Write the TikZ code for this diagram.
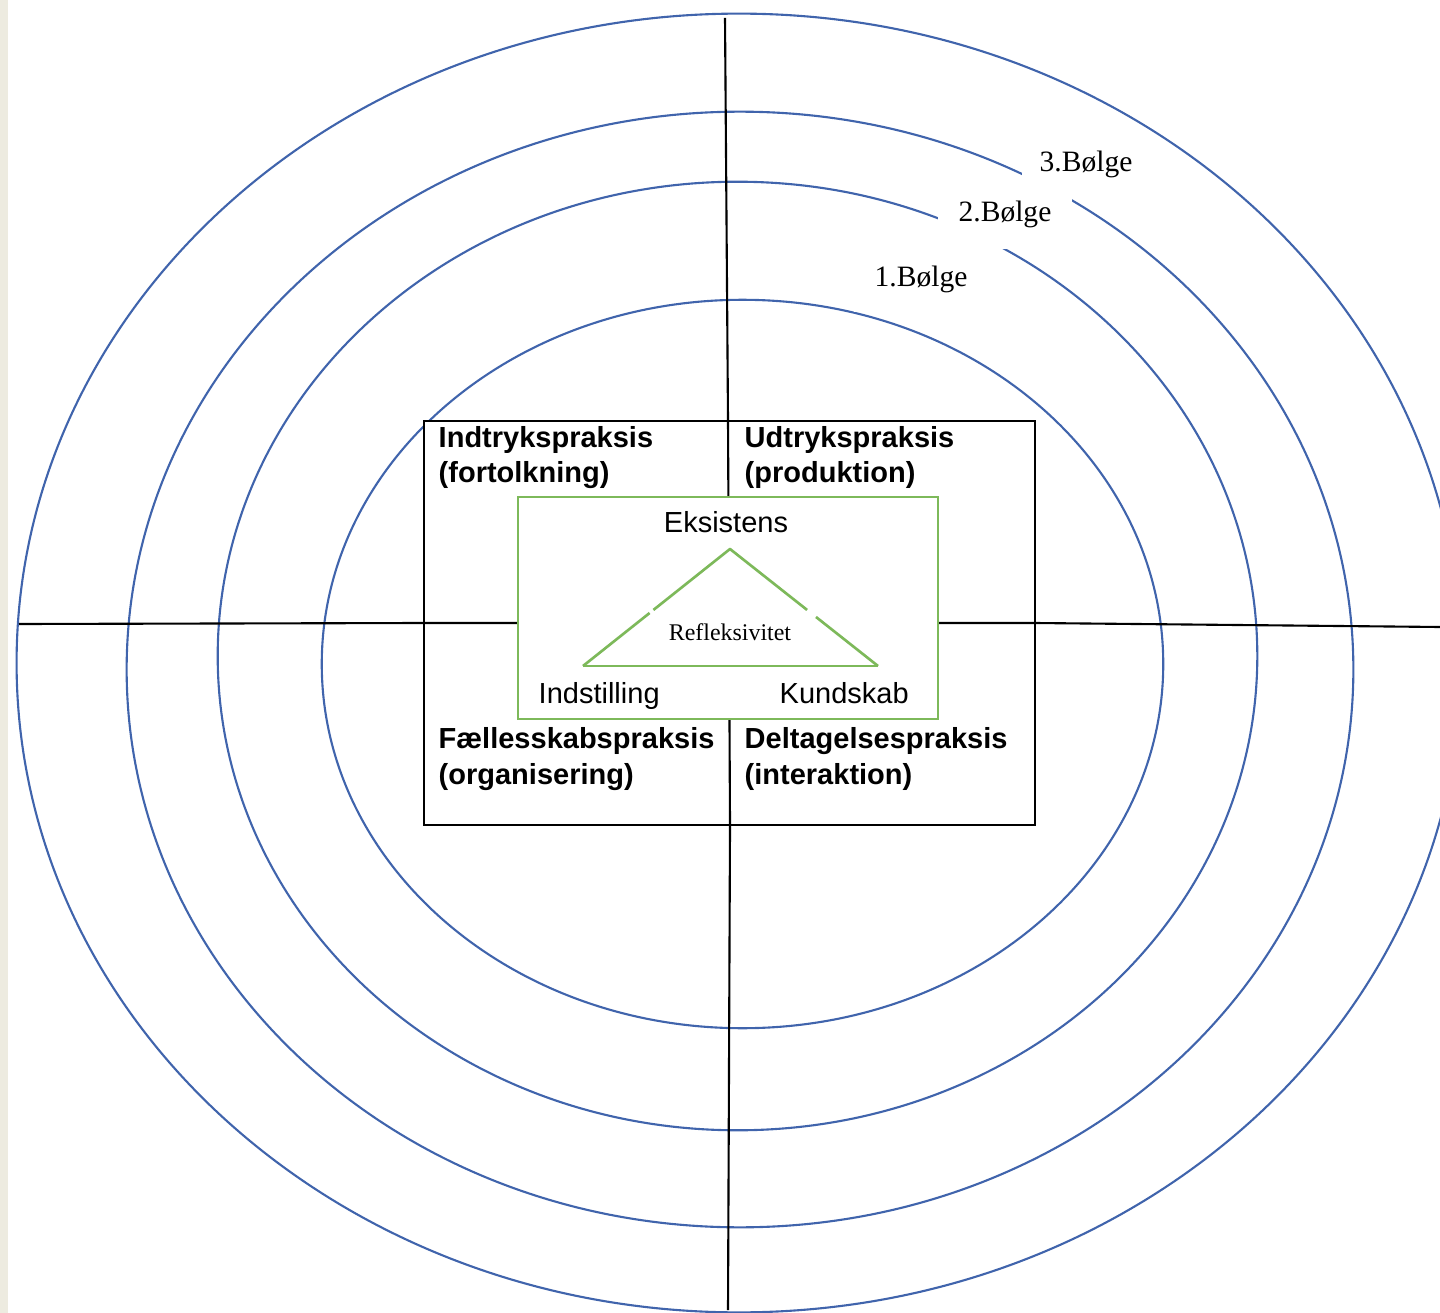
\documentclass[tikz,border=0pt]{standalone}
\usepackage{fontspec}
\setmainfont{Liberation Serif}
\setsansfont{Liberation Sans}
\usetikzlibrary{calc}
\definecolor{waveblue}{RGB}{64,100,172}
\definecolor{refgreen}{RGB}{125,185,90}
\definecolor{sidebeige}{RGB}{237,235,224}

\begin{document}
\begin{tikzpicture}[x=0.01cm, y=-0.01cm,
    wave/.style={draw=waveblue, line width=0.6pt},
    axis/.style={draw=black, line width=0.6pt},
    tri/.style={draw=refgreen, line width=0.75pt},
    wavelabel/.style={fill=white, inner sep=0pt, font=\fontsize{8.4}{10}\selectfont},
    praksis/.style={anchor=base west, align=left, inner sep=0pt, font=\sffamily\bfseries\fontsize{8.25}{9.96}\selectfont},
    corner/.style={inner sep=0pt, font=\sffamily\fontsize{8.25}{9.96}\selectfont}]

  \useasboundingbox (0,0) rectangle (1440,1313);
  \fill[sidebeige] (0,0) rectangle (8,1313);

  % the four waves
  \begin{scope}
    \clip (8,0) rectangle (1440,1313);
    \draw[wave] (742.5,664) ellipse [x radius=4.205cm, y radius=3.64cm];
    \draw[wave] (737.5,656) ellipse [x radius=5.195cm, y radius=4.74cm];
    \draw[wave] (740,669.5) ellipse [x radius=6.13cm, y radius=5.575cm];
    \draw[wave] (739,663) ellipse [x radius=7.22cm, y radius=6.49cm];
  \end{scope}

  \node[wavelabel, minimum width=1.27cm, minimum height=0.68cm] (b3) at (1086,164) {3.Bølge};
  \node[wavelabel, minimum width=1.34cm, minimum height=0.69cm] (b2) at (1005,214) {2.Bølge};
  \node[wavelabel, minimum width=1.34cm, minimum height=0.66cm] (b1) at (921,279) {1.Bølge};

  % axes and the four practices
  \coordinate (top) at (725,18);
  \coordinate (bottom) at (728,1310);
  \coordinate (left) at (19,624);
  \coordinate (right) at (1440,627);
  \coordinate (boxnw) at (424,421);
  \coordinate (boxse) at (1035,825);
  \coordinate (midn) at (728,421);
  \coordinate (mids) at (730,825);
  \coordinate (midw) at (424,623);
  \coordinate (mide) at (1035,623);

  \draw[axis, fill=white] (boxnw) rectangle (boxse);
  \draw[axis] (top) -- (midn) -- (mids) -- (bottom);
  \draw[axis] (left) -- (midw) -- (mide) -- (right);

  \node[praksis] (indtryk) at (438,483) {Indtrykspraksis\\(fortolkning)};
  \node[praksis] (udtryk) at (744,483) {Udtrykspraksis\\(produktion)};
  \node[praksis] (faelles) at (438,784) {Fællesskabspraksis\\(organisering)};
  \node[praksis] (deltag) at (744,784) {Deltagelsespraksis\\(interaktion)};

  % reflexivity box
  \node[draw=refgreen, fill=white, line width=0.75pt, inner sep=0pt,
        minimum width=4.2cm, minimum height=2.22cm] (refbox) at (728,608) {};

  \coordinate (apex) at (730,549);
  \coordinate (tl) at (583,666);
  \coordinate (tr) at (878,666);
  \draw[tri] (tl) -- (tr);
  \draw[tri] (tl) -- ($(tl)!0.453!(apex)$);
  \draw[tri, line join=round] ($(tl)!0.479!(apex)$) -- (apex) -- ($(apex)!0.521!(tr)$);
  \draw[tri] ($(apex)!0.581!(tr)$) -- (tr);

  \node[corner, anchor=base] (eksistens) at (726,533) {Eksistens};
  \node[corner, anchor=base west] (indstilling) at (538,703) {Indstilling};
  \node[corner, anchor=base west] (kundskab) at (779,703) {Kundskab};
  \node[inner sep=0pt, font=\fontsize{6.8}{8}\selectfont] (refleks) at (730,632) {Refleksivitet};
\end{tikzpicture}
\end{document}
